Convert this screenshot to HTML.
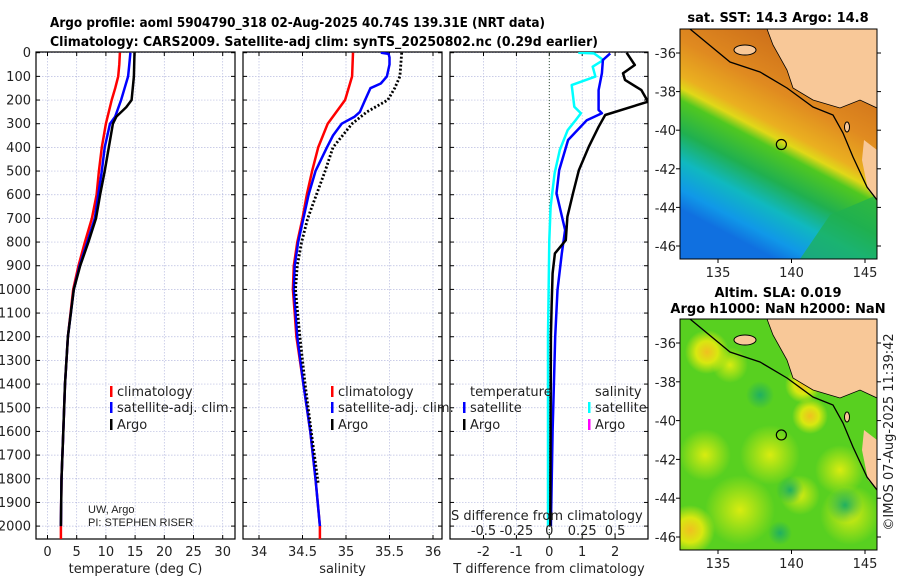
<!DOCTYPE html>
<html><head><meta charset="utf-8">
<style>
html,body{margin:0;padding:0;background:#fff;}
svg{display:block;font-family:"DejaVu Sans","Liberation Sans",sans-serif;}
</style></head>
<body>
<svg id="fig" width="900" height="580" viewBox="0 0 900 580" xmlns="http://www.w3.org/2000/svg">
<defs>
<clipPath id="c1"><rect x="36" y="52" width="199" height="487"/></clipPath>
<clipPath id="c2"><rect x="243" y="52" width="199" height="487"/></clipPath>
<clipPath id="c3"><rect x="450" y="52" width="198" height="487"/></clipPath>
<clipPath id="m1"><rect x="680" y="29" width="197" height="230"/></clipPath>
<clipPath id="m2"><rect x="680" y="319" width="197" height="231"/></clipPath>
<radialGradient id="yb"><stop offset="0" stop-color="#f0c020"/><stop offset="0.5" stop-color="#d8e810"/><stop offset="1" stop-color="#d8e810" stop-opacity="0"/></radialGradient>
<radialGradient id="yl"><stop offset="0" stop-color="#d8ec10"/><stop offset="1" stop-color="#d8ec10" stop-opacity="0"/></radialGradient>
<radialGradient id="gd"><stop offset="0" stop-color="#20b060"/><stop offset="1" stop-color="#20b060" stop-opacity="0"/></radialGradient>
<linearGradient id="sst" gradientUnits="userSpaceOnUse" x1="820" y1="40" x2="720" y2="230">
<stop offset="0" stop-color="#c86818"/><stop offset="0.3" stop-color="#e08a20"/><stop offset="0.45" stop-color="#eab020"/>
<stop offset="0.5" stop-color="#e0d818"/><stop offset="0.55" stop-color="#50c820"/><stop offset="0.68" stop-color="#20b050"/>
<stop offset="0.8" stop-color="#10b8c0"/><stop offset="0.92" stop-color="#1098e8"/><stop offset="1" stop-color="#1070e0"/></linearGradient>
</defs>
<g id="root"></g>
</svg>
<script>
// ---- data ----
const tempClimDepth = [0,50,100,150,200,300,400,500,600,700,800,900,1000,1200,1400,1600,1800,2000,2060];
const tempClim      = [12.4,12.3,12.1,11.6,11.0,10.0,9.3,8.8,8.4,7.6,6.4,5.3,4.4,3.5,3.0,2.7,2.4,2.3,2.3];
const tempSatDepth  = [0,50,100,150,200,270,300,400,500,600,700,800,900,1000,1200,1400,1600,1800,2000];
const tempSat       = [14.2,14.0,13.8,13.2,12.6,11.6,10.7,9.8,9.3,8.7,8.1,6.8,5.5,4.5,3.5,3.0,2.7,2.4,2.3];
const tempArgoDepth = [0,100,200,230,270,300,400,500,600,700,800,900,1000,1200,1400,1600,1800,2000];
const tempArgo      = [14.9,14.8,14.4,13.5,11.8,11.2,10.5,9.8,9.0,8.3,7.0,5.6,4.5,3.5,3.0,2.7,2.4,2.3];

const salClimDepth = [0,100,200,300,400,500,600,700,800,900,1000,1100,1200,1400,1600,1800,2000,2060];
const salClim      = [35.08,35.07,34.99,34.79,34.68,34.61,34.55,34.50,34.44,34.40,34.39,34.41,34.43,34.51,34.59,34.65,34.70,34.70];
const salSatDepth  = [0,5,20,50,100,130,150,200,250,270,300,350,400,500,600,700,800,900,1000,1200,1400,1600,1800,2000];
const salSat       = [35.40,35.49,35.50,35.50,35.47,35.40,35.28,35.22,35.16,35.10,34.95,34.85,34.78,34.65,34.57,34.51,34.45,34.41,34.40,34.44,34.51,34.59,34.65,34.70];
const salArgoDepth = [0,100,150,200,250,300,400,500,600,700,800,900,1000,1200,1400,1600,1820];
const salArgo      = [35.64,35.62,35.56,35.48,35.24,35.07,34.85,34.76,34.66,34.56,34.49,34.44,34.42,34.47,34.53,34.60,34.68];

const dTArgoDepth = [0,52,87,115,158,207,263,313,397,496,594,693,792,848,932,1073,1200,1600,2000];
const dTArgo      = [2.35,2.6,2.24,2.3,2.8,3.0,1.7,1.5,1.2,0.9,0.72,0.55,0.5,0.17,0.1,0.07,0.05,0.04,0.03];
const dTSatDepth  = [3,31,87,158,242,256,285,369,496,594,749,848,1003,1200,1600,2000];
const dTSat       = [1.85,1.63,1.6,1.5,1.5,1.6,1.14,0.57,0.3,0.22,0.48,0.38,0.25,0.18,0.1,0.05];
const dSSatDepth  = [0,3,31,59,101,137,228,256,285,327,411,510,651,792,1200,1600,2000];
const dSSat       = [0.22,0.34,0.41,0.33,0.35,0.17,0.19,0.24,0.2,0.14,0.08,0.04,0.01,0,-0.01,-0.01,-0.01]; // S units (plotted x4 on T axis)

const depthTicks = [0,100,200,300,400,500,600,700,800,900,1000,1100,1200,1300,1400,1500,1600,1700,1800,1900,2000];
const tempTicks = [0,5,10,15,20,25,30];
const salTicks = [34,34.5,35,35.5,36];
const salTickLabels = ["34","34.5","35","35.5","36"];
const dTTicks = [-2,-1,0,1,2];
const dSTicks = [-0.5,-0.25,0,0.25,0.5];
const dSTickLabels = ["-0.5","-0.25","0","0.25","0.5"];
const lonTicks = [135,140,145];
const latTicks = [-36,-38,-40,-42,-44,-46];

// ---- scales ----
const yD = d => 52.7 + d*0.2367;
const xT = t => 47.5 + t*5.84;
const xS = s => 259 + (s-34)*87;
const xDT = v => 549.3 + v*32.9;
const xDS = v => 549.3 + v*4*32.9;
const xLon = l => 718 + (l-135)*14.7;
const yLat1 = l => 53 + (-36-l)*19.3;
const yLat2 = l => 343 + (-36-l)*19.4;

const NS='http://www.w3.org/2000/svg';
const root=document.getElementById('root');
function mk(tag,attrs,parent){const e=document.createElementNS(NS,tag);for(const k in attrs)e.setAttribute(k,attrs[k]);(parent||root).appendChild(e);return e;}
function txt(s,x,y,attrs,parent){const e=mk('text',Object.assign({x:x,y:y,'font-size':13,fill:'#222'},attrs||{}),parent);e.textContent=s;return e;}

let t1=txt('Argo profile: aoml 5904790_318 02-Aug-2025 40.74S 139.31E (NRT data)',50,27,{'font-weight':'bold',textLength:495,lengthAdjust:'spacingAndGlyphs',fill:'#000'});


let t2=txt('Climatology: CARS2009. Satellite-adj clim: synTS_20250802.nc (0.29d earlier)',50,46,{'font-weight':'bold',textLength:548,lengthAdjust:'spacingAndGlyphs',fill:'#000'});



function panel(name,x0,x1,xticks,xfn,xlabels,xtitle){
  const g=mk('g',{});
  
  
  const y0=52,y1=539;
  depthTicks.forEach(d=>{mk('line',{x1:x0,x2:x1,y1:yD(d),y2:yD(d),stroke:'#b8bce0','stroke-width':0.7,'stroke-dasharray':'1.5,1.5'},g);
    mk('line',{x1:x0,x2:x0+4,y1:yD(d),y2:yD(d),stroke:'#000'},g);mk('line',{x1:x1-4,x2:x1,y1:yD(d),y2:yD(d),stroke:'#000'},g);});
  xticks.forEach((v,i)=>{const x=xfn(v);mk('line',{x1:x,x2:x,y1:y0,y2:y1,stroke:'#b8bce0','stroke-width':0.7,'stroke-dasharray':'1.5,1.5'},g);
    mk('line',{x1:x,x2:x,y1:y1-4,y2:y1,stroke:'#000'},g);mk('line',{x1:x,x2:x,y1:y0,y2:y0+4,stroke:'#000'},g);
    const l=txt(xlabels[i],x,556,{'text-anchor':'middle'},g);
    
    });
  mk('rect',{x:x0,y:y0,width:x1-x0,height:y1-y0,fill:'none',stroke:'#000','stroke-width':1.2},g);
  const tt=txt(xtitle,(x0+x1)/2,573,{'text-anchor':'middle'},g);
  
  
  return g;
}
function line(g,depths,vals,xfn,color,w,clip,dash,name){
  const d=depths.map((dd,i)=>(i?'L':'M')+xfn(vals[i]).toFixed(1)+','+yD(dd).toFixed(1)).join('');
  const p=mk('path',{d:d,fill:'none',stroke:color,'stroke-width':w,'clip-path':'url(#'+clip+')','stroke-linejoin':'round'},g);
  if(dash)p.setAttribute('stroke-dasharray',dash);
  
  
}
function legend(g,x,y,color,label,name){
  const r=mk('rect',{x:x,y:y-6,width:2.5,height:11,fill:color},g);
  
  
  const t=txt(label,x+7,y+4,{},g);
  
  
}

depthTicks.forEach(d=>{const l=txt(String(d),31,yD(d)+4.5,{'text-anchor':'end'});
  
  });

const p1=panel('temperature-panel',36,235,tempTicks,xT,tempTicks.map(String),'temperature (deg C)');
line(p1,tempClimDepth,tempClim,xT,'#ff0000',2.5,'c1',null,'temp-climatology-line');
line(p1,tempSatDepth,tempSat,xT,'#0000ff',2.5,'c1',null,'temp-satellite-line');
line(p1,tempArgoDepth,tempArgo,xT,'#000',2.5,'c1',null,'temp-argo-line');
legend(p1,110,392,'#ff0000','climatology','legend-climatology');
legend(p1,110,408,'#0000ff','satellite-adj. clim.','legend-satellite');
legend(p1,110,425,'#000','Argo','legend-argo');
txt('UW, Argo',88,513,{'font-size':11,'font-family':'Liberation Sans, sans-serif'},p1);
txt('PI: STEPHEN RISER',88,526,{'font-size':11,'font-family':'Liberation Sans, sans-serif'},p1);

const p2=panel('salinity-panel',243,442,salTicks,xS,salTickLabels,'salinity');
line(p2,salClimDepth,salClim,xS,'#ff0000',2.5,'c2',null,'sal-climatology-line');
line(p2,salSatDepth,salSat,xS,'#0000ff',2.5,'c2',null,'sal-satellite-line');
line(p2,salArgoDepth,salArgo,xS,'#000',2.8,'c2','2,2','sal-argo-line');
legend(p2,331,392,'#ff0000','climatology','legend-climatology-2');
legend(p2,331,408,'#0000ff','satellite-adj. clim.','legend-satellite-2');
legend(p2,331,425,'#000','Argo','legend-argo-2');

const p3=panel('difference-panel',450,648,dTTicks,xDT,dTTicks.map(String),'T difference from climatology');
mk('line',{x1:549.3,x2:549.3,y1:52,y2:539,stroke:'#335533','stroke-width':1,'stroke-dasharray':'1,2'},p3);
line(p3,dSSatDepth,dSSat,xDS,'#00ffff',2.5,'c3',null,'sal-diff-satellite-line');
line(p3,dTSatDepth,dTSat,xDT,'#0000ff',2.5,'c3',null,'temp-diff-satellite-line');
line(p3,dTArgoDepth,dTArgo,xDT,'#000',2.5,'c3',null,'temp-diff-argo-line');
txt('temperature',470,396,{},p3);
txt('salinity',595,396,{},p3);
legend(p3,463,408,'#0000ff','satellite','legend-t-satellite');
legend(p3,463,425,'#000','Argo','legend-t-argo');
legend(p3,588,408,'#00ffff','satellite','legend-s-satellite');
legend(p3,588,425,'#ff00ff','Argo','legend-s-argo');
txt('S difference from climatology',451,520,{},p3);
dSTicks.forEach((v,i)=>{const l=txt(dSTickLabels[i],xDS(v),535,{'text-anchor':'middle'},p3);
  
  });

// ---- maps ----
function mapAxes(g,yTop,yBot,yLat){
  mk('rect',{x:680,y:yTop,width:197,height:yBot-yTop,fill:'none',stroke:'#000','stroke-width':1},g);
  lonTicks.forEach(l=>{const x=xLon(l);mk('line',{x1:x,x2:x,y1:yBot,y2:yBot+4,stroke:'#000'},g);
    const t=txt(String(l),x,yBot+18,{'text-anchor':'middle'},g);
    
    });
  latTicks.forEach(l=>{const y=yLat(l);mk('line',{x1:877,x2:881,y1:y,y2:y,stroke:'#000'},g);mk('line',{x1:676,x2:680,y1:y,y2:y,stroke:'#000'},g);
    const t=txt(String(l),676,y+5,{'text-anchor':'end'},g);
    
    });
}
function land(g,dy,clip){
  const c='url(#'+clip+')';
  mk('polygon',{points:[[767,29],[877,29],[877,108],[860,100],[840,108],[813,100],[793,88],[787,70],[773,45]].map(p=>p[0]+','+(p[1]+dy)).join(' '),fill:'#f8c898','clip-path':c},g);
  mk('polygon',{points:[[877,150],[864,140],[862,160],[868,190],[877,200]].map(p=>p[0]+','+(p[1]+dy)).join(' '),fill:'#f8c898','clip-path':c},g);
  mk('ellipse',{cx:745,cy:50+dy,rx:11,ry:5,fill:'#f8c898',stroke:'#000','stroke-width':1,'clip-path':c},g);
  mk('ellipse',{cx:847,cy:127+dy,rx:2.5,ry:5,fill:'#f8c898',stroke:'#000','stroke-width':1},g);
  mk('polyline',{points:[[690,29],[730,62],[760,72],[787,88],[813,107],[833,115],[843,133],[853,157],[867,187],[877,200]].map(p=>p[0]+','+(p[1]+dy)).join(' '),fill:'none',stroke:'#000','stroke-width':1.3,'clip-path':c},g);
  mk('polyline',{points:[[767,29],[773,45],[787,70],[793,88],[813,100],[840,108],[860,100],[877,108]].map(p=>p[0]+','+(p[1]+dy)).join(' '),fill:'none',stroke:'#000','stroke-width':0.8,'clip-path':c},g);
}
const g1=mk('g',{});


mk('rect',{x:680,y:29,width:197,height:230,fill:'url(#sst)'},g1);
mk('polygon',{points:'877,195 877,259 800,259 830,215',fill:'#20b050',opacity:0.7,'clip-path':'url(#m1)'},g1);
land(g1,0,'m1');
mk('circle',{cx:xLon(139.31),cy:yLat1(-40.74),r:5,fill:'none',stroke:'#000','stroke-width':1.2},g1);
mapAxes(g1,29,259,yLat1);
let mt1=txt('sat. SST: 14.3 Argo: 14.8',778,22,{'text-anchor':'middle','font-weight':'bold',fill:'#000'},g1);



const g2=mk('g',{});


mk('rect',{x:680,y:319,width:197,height:231,fill:'#58d020'},g2);
const gc='url(#m2)';
[[707,352,22,'yb'],[803,385,18,'yb'],[810,416,18,'yb'],[705,455,26,'yl'],[770,455,30,'yl'],[840,470,25,'yl'],[690,530,25,'yb'],[740,510,35,'yl'],[850,515,30,'yl'],[800,495,20,'yl'],[730,365,18,'yl']].forEach(b=>{
  mk('circle',{cx:b[0],cy:b[1],r:b[2],fill:'url(#'+b[3]+')','clip-path':gc},g2);});
[[845,505,18],[790,490,14],[760,395,14],[780,533,12]].forEach(b=>mk('circle',{cx:b[0],cy:b[1],r:b[2],fill:'url(#gd)','clip-path':gc},g2));
land(g2,290,'m2');
mk('circle',{cx:xLon(139.31),cy:yLat2(-40.74),r:5,fill:'none',stroke:'#000','stroke-width':1.2},g2);
mapAxes(g2,319,550,yLat2);
let mt2=txt('Altim. SLA: 0.019',778,297,{'text-anchor':'middle','font-weight':'bold',fill:'#000'},g2);


let mt3=txt('Argo h1000: NaN h2000: NaN',778,313,{'text-anchor':'middle','font-weight':'bold',fill:'#000'},g2);



let cr=txt('©IMOS 07-Aug-2025 11:39:42',0,0,{'text-anchor':'middle',transform:'translate(893,432) rotate(-90)'});


</script>
</body></html>
